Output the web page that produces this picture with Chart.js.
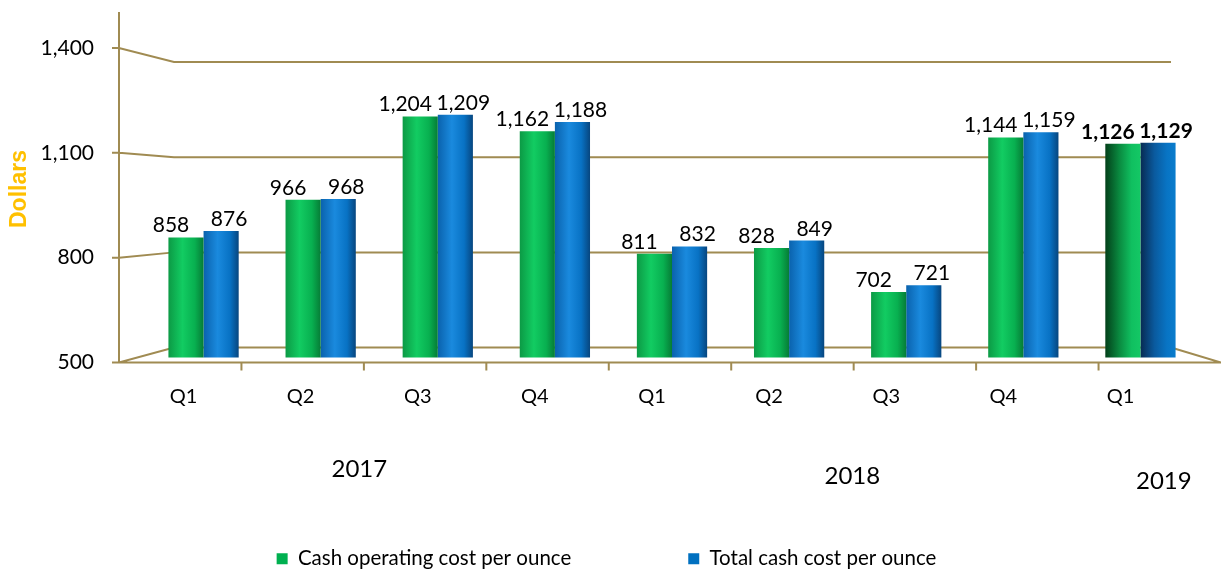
<html>
  <head>
    <title>Cash Cost per Ounce</title>
    <script src="https://cdn.jsdelivr.net/npm/chart.js"></script>
    <style>
      body { margin: 0; background: #fff; }
    </style>
  </head>
  <body>
    <canvas id="costChart" width="1221" height="569"></canvas>

    <script>
      const quarters = ['Q1', 'Q2', 'Q3', 'Q4', 'Q1', 'Q2', 'Q3', 'Q4', 'Q1'];
      const years = ['2017', '2018', '2019'];
      const cashOperating = [858, 966, 1204, 1162, 811, 828, 702, 1144, 1126];
      const totalCash = [876, 968, 1209, 1188, 832, 849, 721, 1159, 1129];
      const yTicks = [500, 800, 1100, 1400];

      const fmt = v => v.toLocaleString('en-US');
      const gridColor = '#a08b52';
      const textFont = 'Lato';

      // pseudo 3D walls: back grid lines, floor, axis
      const frame = {
        id: 'frame',
        beforeDatasetsDraw(chart) {
          const { ctx, chartArea: a, scales: { y } } = chart;
          const fl = a.left - 26, bl = a.left + 29, br = a.right - 28, fr = a.right + 22;
          const back = fy => a.top + 14 + (fy - a.top) * 0.908;
          ctx.save();
          ctx.strokeStyle = gridColor;
          ctx.lineWidth = 2;
          ctx.beginPath();
          ctx.moveTo(fl, a.top - 36);
          ctx.lineTo(fl, a.bottom);
          yTicks.forEach(v => {
            const fy = y.getPixelForValue(v);
            ctx.moveTo(fl - 7, fy);
            ctx.lineTo(fl, fy);
            ctx.lineTo(bl, back(fy));
            ctx.lineTo(br, back(fy));
          });
          const fb = y.getPixelForValue(yTicks[0]);
          ctx.moveTo(br, back(fb));
          ctx.lineTo(fr, fb);
          ctx.lineTo(fl, fb);
          for (let k = 1; k < quarters.length; k++) {
            const x = fl + k * (fr - fl) / quarters.length;
            ctx.moveTo(x, fb);
            ctx.lineTo(x, fb + 8);
          }
          ctx.stroke();

          // axis title, placed a bit above the middle like the original
          ctx.translate(20, 189);
          ctx.rotate(-Math.PI / 2);
          ctx.fillStyle = '#ffc000';
          ctx.font = 'bold 23px Liberation Sans';
          ctx.textAlign = 'center';
          ctx.textBaseline = 'middle';
          ctx.fillText('Dollars', 0, 0);
          ctx.restore();

          // cylinder-ish shading on each bar
          const shades = [
            ['#0c9a45', '#12cc62', '#08b050', '#067c36'],
            ['#0a62ad', '#1a8ade', '#0872c4', '#07467f']
          ];
          chart.data.datasets.forEach((ds, di) => {
            chart.getDatasetMeta(di).data.forEach((el, i) => {
              const w = el.width;
              const g = ctx.createLinearGradient(el.x - w / 2, 0, el.x + w / 2, 0);
              let s = shades[di];
              if (i === quarters.length - 1) s = di === 0
                ? ['#03401a', '#0a8a40', '#10c060', '#14c865']
                : ['#082a52', '#0a5a9e', '#0874c4', '#0a7ccc'];
              g.addColorStop(0, s[0]);
              g.addColorStop(0.4, s[1]);
              g.addColorStop(0.75, s[2]);
              g.addColorStop(1, s[3]);
              el.options = Object.assign({}, el.options, { backgroundColor: g });
            });
          });
        },
        afterDatasetsDraw(chart) {
          const { ctx, scales: { x } } = chart;
          ctx.save();
          ctx.fillStyle = '#000';
          ctx.textAlign = 'center';
          ctx.textBaseline = 'alphabetic';
          // labels sit a little apart, like the 3D original
          const shift = [-15, 8];
          chart.data.datasets.forEach((ds, di) => {
            chart.getDatasetMeta(di).data.forEach((el, i) => {
              const bold = i === quarters.length - 1 ? 'bold ' : '';
              ctx.font = bold + '21px ' + textFont;
              ctx.fillText(fmt(ds.data[i]), el.x + shift[di], el.y - 5);
            });
          });
          // year captions under the quarters
          ctx.textBaseline = 'middle';
          ctx.font = '24px ' + textFont;
          const yearAt = [[1.33, 469], [5.54, 476], [8.2, 481]];
          years.forEach((yr, i) => {
            ctx.fillText(yr, x.getPixelForValue(yearAt[i][0]), yearAt[i][1]);
          });
          ctx.restore();
        }
      };

      new Chart(document.getElementById('costChart'), {
        type: 'bar',
        data: {
          labels: quarters,
          datasets: [{
            label: 'Cash operating cost per ounce',
            data: cashOperating,
            backgroundColor: '#00b050',
            borderWidth: 0,
            base: 514
          }, {
            label: 'Total cash cost per ounce',
            data: totalCash,
            backgroundColor: '#0070c0',
            borderWidth: 0,
            base: 514
          }]
        },
        options: {
          responsive: false,
          animation: false,
          datasets: {
            bar: { categoryPercentage: 0.6, barPercentage: 1.0 }
          },
          layout: { padding: { top: 48, right: 15, bottom: -10, left: 7 } },
          plugins: {
            tooltip: { enabled: false },
            legend: {
              position: 'bottom',
              labels: {
                boxWidth: 11,
                boxHeight: 11,
                padding: 117,
                color: '#000',
                font: { family: textFont, size: 20.5 }
              }
            }
          },
          scales: {
            x: {
              grid: { display: false },
              border: { display: false },
              ticks: {
                color: '#000',
                font: { family: textFont, size: 20 },
                labelOffset: -20,
                padding: 14
              },
              afterFit(s) { s.height = 69; }
            },
            y: {
              min: 500,
              max: 1400,
              weight: 0,
              grid: { display: false },
              border: { display: false },
              ticks: { display: false },
              afterBuildTicks(s) { s.ticks = yTicks.map(v => ({ value: v })); },
              afterFit(s) { s.width = 39; }
            },
            yLabels: {
              position: 'left',
              min: 500,
              max: 1400,
              weight: 1,
              grid: { display: false },
              border: { display: false },
              ticks: {
                padding: 4,
                color: '#000',
                font: { family: textFont, size: 21 },
                callback: v => fmt(v)
              },
              afterBuildTicks(s) { s.ticks = yTicks.map(v => ({ value: v })); },
              afterFit(s) { s.width = 99; }
            },
            yRight: {
              position: 'right',
              grid: { display: false },
              border: { display: false },
              ticks: { display: false },
              afterFit(s) { s.width = 7; }
            }
          }
        },
        plugins: [frame]
      });
    </script>
  </body>
</html>
